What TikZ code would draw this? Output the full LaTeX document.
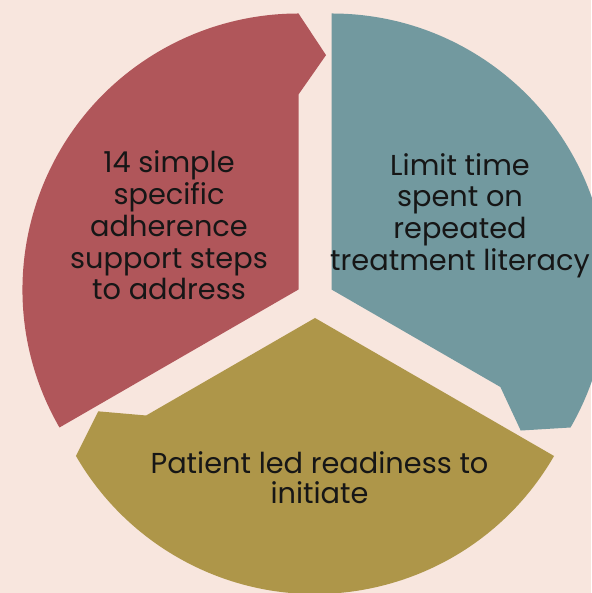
\documentclass[tikz,border=0pt]{standalone}
\usepackage{fontspec}
\setmainfont{Poppins}
\usetikzlibrary{calc}
\definecolor{bgc}{RGB}{248,230,222}
\definecolor{redc}{RGB}{176,86,90}
\definecolor{tealc}{RGB}{114,153,159}
\definecolor{olivec}{RGB}{174,150,73}
\definecolor{txt}{RGB}{22,22,22}
\begin{document}
\begin{tikzpicture}[x=1pt,y=1pt,
  lbl/.style={align=center, inner sep=0pt, text=txt, font=\fontsize{28.8}{31.7}\selectfont},
  lblo/.style={lbl, font=\fontsize{28.8}{30}\selectfont}]
\useasboundingbox (0,0) rectangle (591,593);
\fill[bgc] (0,0) rectangle (591,593);
% wedge apexes
\coordinate (ar) at (298.5,303.5);
\coordinate (at) at (331.5,303.5);
\coordinate (ao) at (315,275);
% red wedge
\fill[redc] (ar) -- ($(ar)+(210:276)$) arc[start angle=210, end angle=90, radius=276]
  -- ($(ar)+(83.3:236)$) -- ($(ar)+(90:195)$) -- cycle;
% teal wedge
\fill[tealc] (at) -- ($(at)+(90:276)$) arc[start angle=90, end angle=-30, radius=276]
  -- ($(at)+(-36.7:236)$) -- ($(at)+(-30:195)$) -- cycle;
% olive wedge
\fill[olivec] (ao) -- ($(ao)+(-30:276)$) arc[start angle=-30, end angle=-150, radius=276]
  -- ($(ao)+(-156.7:236)$) -- ($(ao)+(-150:195)$) -- cycle;
% labels
\node[lbl] (tred) at (169,367.5) {14 simple\\specific\\adherence\\support steps\\to address};
\node[lbl] (tteal) at (460,377.5) {Limit time\\spent on\\repeated\\treatment literacy};
\node[lblo] (tolive) at (319.5,115) {Patient led readiness to\\initiate};
\end{tikzpicture}
\end{document}
